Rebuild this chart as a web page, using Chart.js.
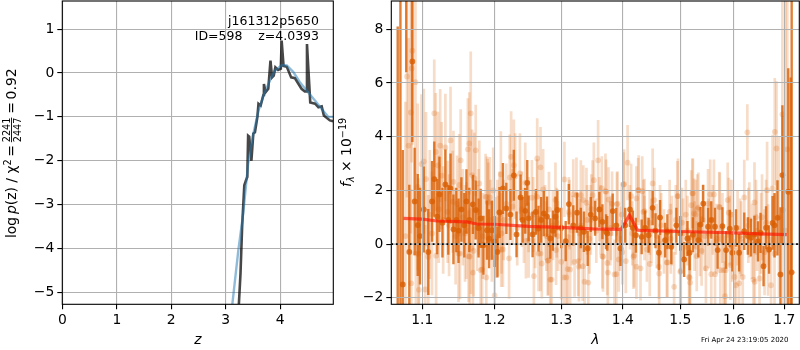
<!DOCTYPE html>
<html>
<head>
<meta charset="utf-8">
<style>
html,body{margin:0;padding:0;background:#fff;width:800px;height:350px;overflow:hidden}
canvas{position:absolute;top:0}
#pz{left:0}
#sp{left:335px}
</style>
<script src="https://cdn.jsdelivr.net/npm/chart.js@4/dist/chart.umd.min.js"></script>
</head>
<body>
<canvas id="pz" width="335" height="350"></canvas>
<canvas id="sp" width="465" height="350"></canvas>
<script>
const pzTicksX = [0,1,2,3,4];
const pzTicksY = [-5,-4,-3,-2,-1,0,1];
const spTicksX = [1.1,1.2,1.3,1.4,1.5,1.6,1.7];
const spTicksY = [-2,0,2,4,6,8];

const pzDarkZ = [3.24,3.27,3.30,3.34,3.37,3.395,3.41,3.43,3.47,3.505,3.535,3.58,3.60,3.64,3.69,3.70,3.73,3.78,3.82,3.85,3.88,3.91,3.96,4.01,4.025,4.06,4.12,4.20,4.27,4.39,4.45,4.475,4.49,4.515,4.55,4.64,4.70,4.76,4.80,4.91,4.97];
const pzDarkP = [-5.27,-4.57,-3.5,-2.56,-2.45,-2.37,-1.43,-1.45,-2.0,-1.38,-1.35,-1.0,-0.7,-0.74,-0.5,-0.25,-0.44,-0.36,0.28,-0.1,-0.06,0.13,0.07,0.1,0.74,0.16,0.14,-0.1,-0.12,-0.36,-0.42,-0.42,0.66,0.1,-0.67,-0.7,-0.78,-0.76,-0.97,-1.08,-1.1];
const pzBlueZ = [3.12,3.23,3.32,3.41,3.505,3.60,3.69,3.81,3.90,4.03,4.12,4.24,4.36,4.51,4.64,4.76,4.88,4.97];
const pzBlueP = [-5.27,-4.04,-3.2,-2.07,-1.39,-0.86,-0.52,-0.17,0.05,0.18,0.17,0.02,-0.21,-0.44,-0.63,-0.82,-1.0,-1.0];

const modelWave = [1.0755,1.10,1.12,1.16,1.175,1.20,1.25,1.30,1.35,1.397,1.404,1.411,1.418,1.425,1.43,1.50,1.60,1.65,1.705];
const modelFlux = [0.96,0.93,0.86,0.83,0.75,0.74,0.66,0.62,0.57,0.55,0.8,1.08,0.8,0.52,0.51,0.47,0.42,0.38,0.35];

const darkWave = [1.068,1.0715,1.0745,1.079,1.083,1.087,1.090,1.094,1.097,1.102,1.108,1.113,1.116,1.120,1.123,1.127,1.131,1.135,1.138,1.142,1.146,1.149,1.153,1.157,1.160,1.164,1.169,1.173,1.177,1.180,1.184,1.189,1.192,1.196,1.200,1.204,1.207,1.212,1.217,1.223,1.228,1.232,1.238,1.241,1.245,1.248,1.250,1.256,1.261,1.265,1.269,1.273,1.278,1.283,1.287,1.291,1.294,1.300,1.307,1.312,1.319,1.325,1.331,1.336,1.342,1.347,1.354,1.361,1.366,1.372,1.374,1.383,1.389,1.396,1.404,1.412,1.417,1.422,1.432,1.438,1.444,1.451,1.456,1.462,1.464,1.473,1.477,1.484,1.493,1.500,1.507,1.513,1.517,1.523,1.533,1.537,1.542,1.551,1.557,1.564,1.569,1.578,1.585,1.592,1.597,1.604,1.610,1.620,1.627,1.633,1.640,1.647,1.652,1.658,1.663,1.669,1.676,1.680,1.686,1.692,1.696,1.708,1.713,1.715];
const darkFlux = [-3,-4,-1.5,13,-0.29,6.8,1.59,0.71,0.3,1.29,-0.29,1.59,2.42,1.02,1.85,0.8,2.22,0.9,2.07,0.55,0.9,0.5,1.29,0.7,1.59,0.9,1.48,1.27,0.6,0.96,-0.04,0.52,0.2,0.52,0.1,-0.29,1.18,2.07,1.33,1.1,2.56,0.36,1.74,0.9,1.24,2.28,0.96,0.36,1.2,0.58,0.9,1.14,1.02,0.21,0.5,1.02,1.27,0.6,0.11,1.49,0.7,1.17,0.6,0.46,-0.16,1.1,0.96,1.29,0.83,0.46,0.4,1.23,0.7,-0.16,0.7,1.29,0.6,0.33,0.27,0.6,0.33,1.35,0.5,-0.32,0.99,0.15,0.46,-0.1,0.7,0.4,-0.57,0.21,-0.32,0.35,0.15,0.73,1.51,0.65,0.9,0.65,-0.22,0.67,-0.22,0.58,-0.32,0.6,-0.32,0.48,0.3,0.24,0.36,0.1,0.42,-0.82,0.61,-0.2,0.79,0.7,0.98,-1.13,2.57,1.95,-3,-1.05];
const darkErr = [11.1,15,5,6.6,2.5,3,2,1.9,1.8,1.6,1.6,1.5,1.4,1.4,1.4,1.3,1.3,1.3,1.3,1.3,1.2,1.2,1.2,1.2,1.2,1.2,1.1,1.1,1.1,1.1,1.1,1.1,1.1,1.1,0.95,0.95,0.95,0.95,0.95,0.95,0.95,0.85,0.85,0.85,0.85,0.85,0.85,0.85,0.85,0.85,0.85,0.85,0.75,0.75,0.75,0.75,0.75,0.75,0.75,0.75,0.75,0.75,0.75,0.75,0.65,0.65,0.65,0.65,0.65,0.65,0.65,0.65,0.65,0.65,0.65,0.65,0.65,0.65,0.65,0.65,0.65,0.65,0.65,0.65,0.65,0.65,0.65,0.65,0.65,0.65,0.65,0.65,0.65,0.65,0.65,0.65,0.7,0.7,0.7,0.7,0.7,0.7,0.7,0.7,0.7,0.7,0.7,0.7,0.7,0.7,0.7,0.75,0.75,0.75,0.8,0.9,1,1.2,1.4,2.5,2.6,4.6,9.2,12];

const lightWave = [1.078,1.080,1.082,1.085,1.0855,1.086,1.087,1.091,1.0915,1.094,1.095,1.0955,1.099,1.102,1.104,1.105,1.108,1.110,1.113,1.116,1.118,1.1185,1.121,1.124,1.126,1.128,1.131,1.134,1.138,1.141,1.142,1.145,1.149,1.150,1.152,1.155,1.158,1.162,1.164,1.1645,1.166,1.1665,1.168,1.169,1.171,1.173,1.175,1.178,1.180,1.183,1.187,1.188,1.190,1.193,1.196,1.198,1.200,1.201,1.204,1.207,1.209,1.2095,1.213,1.217,1.221,1.222,1.224,1.228,1.230,1.233,1.237,1.240,1.245,1.246,1.250,1.255,1.258,1.260,1.263,1.265,1.268,1.270,1.272,1.275,1.279,1.281,1.283,1.287,1.291,1.295,1.300,1.304,1.305,1.310,1.313,1.317,1.321,1.324,1.328,1.331,1.335,1.337,1.341,1.345,1.348,1.352,1.356,1.359,1.363,1.367,1.371,1.375,1.379,1.382,1.386,1.391,1.395,1.399,1.402,1.408,1.412,1.418,1.423,1.427,1.430,1.433,1.437,1.441,1.446,1.451,1.454,1.458,1.462,1.4625,1.466,1.471,1.477,1.481,1.485,1.489,1.492,1.496,1.501,1.505,1.510,1.516,1.518,1.522,1.526,1.531,1.536,1.541,1.547,1.552,1.555,1.557,1.562,1.567,1.572,1.574,1.580,1.583,1.588,1.592,1.597,1.601,1.604,1.607,1.610,1.614,1.617,1.620,1.626,1.630,1.635,1.638,1.640,1.6405,1.645,1.650,1.655,1.660,1.665,1.667,1.673,1.676,1.680,1.6805,1.684,1.689,1.696,1.697,1.702,1.706,
  1.151,1.163,1.170,1.182,1.189,1.191,1.205,1.212,1.250,1.263,1.319,1.331,1.340,1.350,1.268,1.280,1.285,1.292,1.308,1.314,1.327,1.334,1.343,1.365,1.372,1.376,1.390,1.401,1.414,1.423,1.426,1.437,1.366,1.374,1.389,1.393,1.405,1.419,1.446,1.495,1.523,1.520,1.525,1.533,1.551,1.573,1.590,1.476,1.500,1.517,1.530,1.539,1.564,1.584,1.593,
  1.122,1.136,1.147,1.160,1.177,1.194,1.210,1.226,1.243,1.257,1.277,1.293,1.312,1.329,1.347,1.361,1.380,1.398,1.416,1.435,1.449,1.464,1.483,1.503,1.513,1.528,1.545,1.560,1.578,1.595,1.612,1.628,1.643,1.653,1.663];
const lightFlux = [0.3,6.24,3.67,4.9,-1.46,6.54,7.2,6.03,-0.35,2.13,-0.35,-1.7,2.98,3.08,-1.69,2.42,-0.47,1.1,0.4,4.87,3.43,-0.43,2.93,3.67,2.55,0.9,3.6,1.2,3.86,1.58,2.32,0.3,-0.35,2.2,3.12,1,0.4,3.53,3.75,-0.47,4.87,-0.16,2.57,-1.06,2.45,3.49,0.6,2.26,-0.97,0.3,1.76,-1.24,1.58,1.74,0.1,2,-1.91,0.25,0.9,1.2,2.6,-0.2,0.9,1.5,-0.53,2.48,3.25,2.94,2.53,0.6,2.63,1.3,2.28,0.12,1.1,1.73,-1.19,0.5,3.19,-0.35,2.86,-0.72,2.04,0.8,-0.62,1.29,-1.32,0.7,1.64,0.3,-0.66,-1.24,2.41,-0.93,1.1,0.5,-0.66,1.82,-0.84,0.7,1.64,-1.4,0.9,0.2,1.3,2.38,0.5,3.12,0.9,-0.47,1.97,-1.06,0.4,1.5,-1.13,1.51,0.2,-0.3,2.23,3.03,1,-0.47,-0.84,2.01,-0.9,1.97,0.6,-0.2,0.8,2.26,1.64,0.3,-0.84,-1.09,0.7,0.1,-0.68,1.2,0.5,-1.59,0.9,1.79,-0.99,0.4,1.1,-1.22,-1.43,1.89,0.3,1.3,0.1,0.9,-0.9,0.4,1.85,-1.12,1.85,0.2,1.39,-0.97,-0.97,-1.94,1.64,0.5,-0.1,-1.22,-1.53,0.6,-1.46,0.2,-1.22,1.74,4.16,0.9,0.1,-1.32,1.55,-1.4,0.5,-1.28,1,-0.3,2.01,-0.22,-1.53,2.07,-0.35,4.18,3.56,1,4.83,1.27,0.5,3.53,
  -0.35,-0.45,-0.25,-0.94,1.76,1.54,0.3,-0.2,0.15,1.76,1.86,1.82,1.54,1.82,-0.35,-0.6,-1.32,-0.22,-1.24,-0.94,-0.63,-0.82,-1.43,2.07,1.95,1.66,1.48,2.22,1.79,1.7,2.01,1.23,-0.45,-0.7,-1.12,-0.57,-0.63,-0.41,-0.74,1.79,1.89,1.45,1.14,1.37,1.5,1.37,1.17,-0.68,-1.03,-1.25,-0.45,-0.25,-1.12,-0.97,-0.78,
  1.3,0.7,1.5,0.5,1.2,0.9,0.4,1.4,0.7,1.1,0.3,0.8,1.2,0.4,0.9,1.3,0.6,1.1,0.4,1.2,0.5,1.0,0.2,0.8,0.5,1.1,0.3,0.9,0.6,1.1,0.3,0.7,1.0,0.4,0.8];
const lightErr = [5,4.5,4,4.5,3.5,3.5,3.5,3.4,3,3.1,2.8,2.6,2.6,2.7,2.4,2.5,2.3,2.4,2.3,2,2.2,2.2,2,2.1,2,2,2,1.9,2,1.9,1.9,1.8,1.8,1.9,1.9,1.8,1.8,1.9,1.9,1.8,2.3,1.7,1.7,1.7,1.7,1.7,1.6,1.6,1.6,1.6,1.6,1.5,1.6,1.5,1.5,1.6,1.5,1.5,1.5,1.5,1.6,1.4,1.5,1.5,1.5,1.6,1.7,1.7,1.6,1.4,1.5,1.4,1.5,1.4,1.4,1.4,1.4,1.4,1.5,1.4,1.5,1.3,1.5,1.4,1.3,1.4,1.3,1.3,1.4,1.3,1.4,1.3,1.4,1.3,1.3,1.3,1.3,1.4,1.3,1.3,1.3,1.4,1.3,1.3,1.3,1.4,1.2,1.5,1.3,1.3,1.4,1.3,1.2,1.2,1.3,1.2,1.2,1.2,1.3,1.4,1.2,1.2,1.2,1.3,1.2,1.3,1.2,1.2,1.2,1.3,1.2,1.2,1.2,1.2,1.2,1.2,1.3,1.2,1.3,1.3,1.3,1.4,1.3,1.3,1.3,1.3,1.3,1.3,1.3,1.3,1.3,1.3,1.3,1.3,1.3,1.3,1.3,1.3,1.3,1.3,1.3,1.3,1.4,1.3,1.3,1.4,1.4,1.4,1.4,1.4,1.4,1.4,1.05,1.4,1.4,1.4,1.5,1.4,1.5,1.5,1.6,1.6,1.8,1.7,1.8,2,2.2,2,2.5,3,4.5,3.5,10,8,
  1.7,1.7,1.7,1.6,1.5,1.5,1.5,1.4,1.4,1.4,1.3,1.3,1.3,1.3,1.4,1.3,1.3,1.3,1.3,1.3,1.3,1.3,1.3,1.2,1.2,1.2,1.2,1.2,1.2,1.2,1.2,1.2,1.2,1.2,1.2,1.2,1.2,1.2,1.2,1.3,1.3,1.3,1.3,1.3,1.3,1.3,1.3,1.3,1.3,1.3,1.3,1.3,1.3,1.3,1.3,
  2,1.9,1.8,1.8,1.6,1.5,1.5,1.4,1.4,1.4,1.3,1.3,1.3,1.3,1.3,1.2,1.2,1.2,1.2,1.2,1.2,1.2,1.3,1.3,1.3,1.3,1.3,1.3,1.3,1.3,1.4,1.4,1.4,1.5,1.6];

const FONT = '"DejaVu Sans"';
const ORANGE_DARK = 'rgba(217,95,2,0.8)';
const ORANGE_LIGHT = 'rgba(217,95,2,0.22)';
const GRID = '#b0b0b0';

function pairs(xs, ys){ return xs.map((x,i)=>({x, y:ys[i]})); }
function errorBars(xs, ys, es){
  const out = [];
  xs.forEach((x,i)=>{
    out.push({x, y:ys[i]-es[i]}, {x, y:ys[i]+es[i]}, {x, y:null});
  });
  return out;
}
function minus(v){ return String(v).replace('-','\u2212'); }

function fitY(w){ return s=>{ s.width=w; s.paddingTop=0; s.paddingBottom=0; }; }
function fitX(h){ return s=>{ s.height=h; s.paddingLeft=0; s.paddingRight=0; }; }

function axisBase(tickValues, fit, fmt, gridColor, z){
  return {
    bounds:'data',
    afterBuildTicks: s => { s.ticks = tickValues.map(value=>({value})); },
    afterFit: fit,
    grid:{color:gridColor||GRID, lineWidth:1.1, tickColor:'#000', tickLength:5, z:z||0, drawTicks:true},
    border:{display:false},
    ticks:{color:'#000', autoSkip:false, maxRotation:0, padding:3,
           font:{family:FONT,size:13.9}, callback:fmt}
  };
}

function frame(){
  return {id:'frame', afterDraw(c){
    const a=c.chartArea, g=c.ctx;
    g.save(); g.strokeStyle='#000'; g.lineWidth=1.1;
    g.strokeRect(a.left,a.top,a.right-a.left,a.bottom-a.top);
    g.restore();
  }};
}

// rotated run of text pieces, read bottom to top
function runs(g, baseX, startY, list){
  g.save();
  g.translate(baseX,startY);
  g.rotate(-Math.PI/2);
  g.fillStyle='#000';
  g.textBaseline='alphabetic';
  g.textAlign='left';
  let x=0;
  list.forEach(p=>{
    g.font=(p.it?'italic ':'')+(p.s||13.9)+'px '+FONT;
    if(p.frac){
      g.font=(p.s||9.7)+'px '+FONT;
      const w=Math.max(g.measureText(p.frac[0]).width,g.measureText(p.frac[1]).width);
      g.fillText(p.frac[0],x,-6.5);
      g.fillText(p.frac[1],x,4.5);
      g.fillRect(x,-4.9,w,0.9);
      x+=w+1;
    } else {
      g.fillText(p.t,x,p.dy||0);
      x+=g.measureText(p.t).width;
    }
  });
  g.restore();
}

const pzOptions = {
  responsive:false, animation:false, devicePixelRatio:1,
  layout:{autoPadding:false,padding:{top:1,right:1.7,left:0,bottom:0}},
  plugins:{legend:{display:false},tooltip:{enabled:false}},
  scales:{
    x:Object.assign(axisBase(pzTicksX,fitX(45.7),v=>String(v)),{
      type:'linear',min:0,max:4.973,
      title:{display:true,text:'z',color:'#000',padding:{top:0,bottom:1},font:{family:FONT,size:13.9,style:'italic'}}
    }),
    y:Object.assign(axisBase(pzTicksY,fitY(62.3),minus),{
      type:'linear',min:-5.27,max:1.64
    })
  }
};

new Chart(document.getElementById('pz'),{
  type:'line',
  data:{datasets:[
    {label:'prior',data:pairs(pzBlueZ,pzBlueP),borderColor:'rgba(31,119,180,0.5)',borderWidth:2.4,pointRadius:0,tension:0,order:1},
    {label:'pz',data:pairs(pzDarkZ,pzDarkP),borderColor:'rgba(0,0,0,0.72)',borderWidth:2.6,pointRadius:0,tension:0,order:2}
  ]},
  options:pzOptions,
  plugins:[frame(),{id:'pzText',afterDraw(c){
    const g=c.ctx; g.save();
    g.fillStyle='#000'; g.font='12.5px '+FONT; g.textAlign='right'; g.textBaseline='alphabetic';
    g.fillText('j161312p5650',319,24.5);
    g.fillText('ID=598    z=4.0393',319,39.5);
    g.restore();
    runs(g,16,238,[{t:'log\u2009'},{t:'p',it:1},{t:'(z) / \u03c7'},{t:'2',s:9.7,dy:-5},{t:'\u2009=\u2009'},{frac:['2241','2447']},{t:'\u2009=\u20090.92'}]);
  }}]
});

const spOptions = {
  responsive:false, animation:false, devicePixelRatio:1,
  layout:{autoPadding:false,padding:{top:1,right:0.7,left:0,bottom:0}},
  plugins:{legend:{display:false},tooltip:{enabled:false}},
  scales:{
    x:Object.assign(axisBase(spTicksX,fitX(45.7),v=>v.toFixed(1),GRID,1),{
      type:'logarithmic',min:1.0598,max:1.7308,
      title:{display:true,text:'\u03bb',color:'#000',padding:{top:0,bottom:1},font:{family:FONT,size:13.9,style:'italic'}}
    }),
    y:Object.assign(axisBase(spTicksY,fitY(56.3),minus,c=>c.tick.value===0?'rgba(0,0,0,0)':GRID,1),{
      type:'linear',min:-2.24,max:9.05
    })
  }
};

new Chart(document.getElementById('sp'),{
  type:'line',
  data:{datasets:[
    {label:'zero',data:[{x:1.0598,y:0},{x:1.7308,y:0}],borderColor:'#000',borderWidth:1.8,borderDash:[1.8,2.8],pointRadius:0,order:1},
    {label:'zero grid',data:[{x:1.0598,y:0},{x:1.7308,y:0}],borderColor:GRID,borderWidth:1.1,pointRadius:0,order:2},
    {label:'model',data:pairs(modelWave,modelFlux),borderColor:'rgba(255,20,0,0.65)',borderWidth:3.2,pointRadius:0,tension:0,order:3},
    {label:'binned',data:pairs(darkWave,darkFlux),showLine:false,pointRadius:2.9,pointBorderWidth:0,pointBackgroundColor:ORANGE_DARK,order:4},
    {label:'binned err',data:errorBars(darkWave,darkFlux,darkErr),borderColor:ORANGE_DARK,borderWidth:2.4,borderCapStyle:'butt',pointRadius:0,tension:0,spanGaps:false,segment:{},order:5},
    {label:'spectrum',data:pairs(lightWave,lightFlux),showLine:false,pointRadius:2.9,pointBorderWidth:0,pointBackgroundColor:ORANGE_LIGHT,order:6},
    {label:'spectrum err',data:errorBars(lightWave,lightFlux,lightErr),borderColor:ORANGE_LIGHT,borderWidth:2.7,borderCapStyle:'butt',pointRadius:0,tension:0,spanGaps:false,segment:{},order:7}
  ]},
  options:spOptions,
  plugins:[frame(),{id:'spText',afterDraw(c){
    const g=c.ctx; g.save();
    g.fillStyle='#000'; g.font='7px '+FONT; g.textAlign='left'; g.textBaseline='alphabetic';
    g.fillText('Fri Apr 24 23:19:05 2020',366,342);
    g.restore();
    runs(g,15.5,187,[{t:'f',it:1},{t:'\u03bb',it:1,s:9.7,dy:3},{t:' \u00d7 10'},{t:'\u221219',s:9.7,dy:-5}]);
  }}]
});
</script>
</body>
</html>
